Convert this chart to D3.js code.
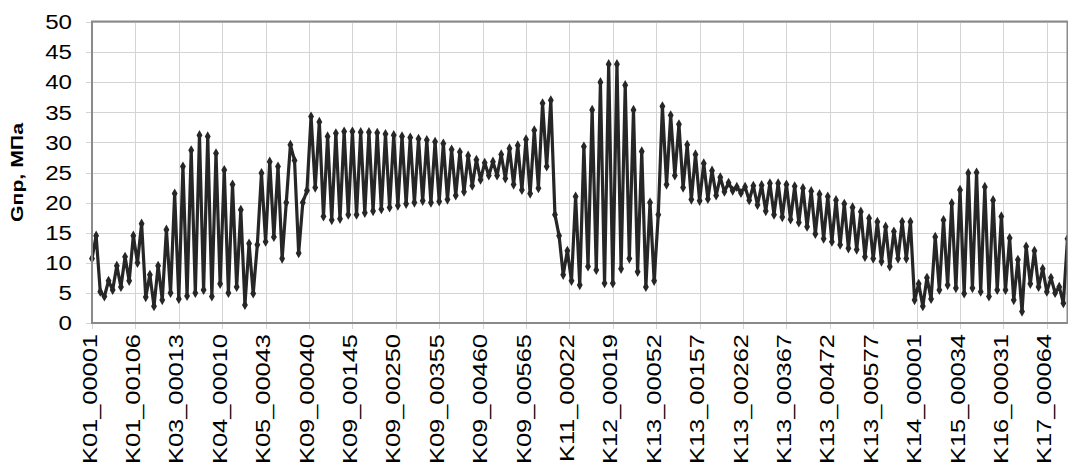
<!DOCTYPE html>
<html>
<head>
<meta charset="utf-8">
<script src="https://cdn.jsdelivr.net/npm/d3@7"></script>
<style>
  body { margin: 0; background: #ffffff; }
  .chart text { font-family: "Liberation Sans", Arial, sans-serif; fill: #000000; }
</style>
</head>
<body>
<svg class="chart"></svg>
<script>
// Sample names shown under the x axis, one every 105 samples
var tickLabels = ["K01_00001", "K01_00106", "K03_00013", "K04_00010", "K05_00043",
  "K09_00040", "K09_00145", "K09_00250", "K09_00355", "K09_00460", "K09_00565",
  "K11_00022", "K12_00019", "K13_00052", "K13_00157", "K13_00262", "K13_00367",
  "K13_00472", "K13_00577", "K14_00001", "K15_00034", "K16_00031", "K17_00064"]
var labelStep = 105
var lastSample = 2360

// y axis ticks
var yTicks = [0, 5, 10, 15, 20, 25, 30, 35, 40, 45, 50]

// Gпр readings (MPa), every 10 samples
var sampleStep = 10
var gpr = [
  10.7, 14.5, 5.2, 4.4, 7, 5.5, 9.5, 6, 11, 7,
  14.5, 10, 16.5, 4.3, 8, 2.8, 9.5, 3.8, 15.5, 5,
  21.5, 4, 26, 4.5, 28.7, 5, 31.2, 5.5, 31, 4.4,
  28.2, 6.5, 25.4, 5, 23, 6, 18.8, 3, 13.2, 4.9,
  13, 24.9, 13.5, 26.8, 14.3, 26, 10.7, 20, 29.6, 27,
  11.6, 20, 22, 34.3, 22.5, 33.4, 17.7, 31, 17.1, 31.5,
  17.3, 31.8, 18, 31.8, 18, 31.7, 18.3, 31.7, 18.6, 31.6,
  18.9, 31.4, 19.2, 31.2, 19.5, 31, 19.8, 30.8, 20, 30.6,
  20.3, 30.4, 20, 30.1, 20.2, 29.8, 20.5, 28.8, 21.2, 28.4,
  21.8, 27.8, 22.8, 27.1, 23.8, 26.6, 24.5, 26.8, 24.5, 28,
  24, 29, 23, 29.5, 22.1, 30.5, 21.5, 32, 22.4, 36.5,
  26, 37, 18, 14.5, 8, 12, 7, 21, 6.3, 29.3,
  9.4, 35.4, 8.8, 40, 6.6, 43, 6.6, 43, 9, 39.5,
  10.7, 35.4, 8.5, 28.5, 6, 20, 7, 18, 36, 23,
  34.5, 24.5, 33, 22.5, 29.6, 20.5, 28, 20.3, 26.5, 20.6,
  25.3, 21.2, 24.2, 21.8, 23.3, 22, 22.6, 21.6, 22.6, 20.4,
  22.8, 19.6, 22.9, 18.6, 23.2, 18, 23.2, 17.6, 23, 17.2,
  22.7, 16.7, 22.4, 16, 21.9, 14.8, 21.4, 14, 21, 13.5,
  20.4, 13, 19.8, 12.4, 19.2, 12.2, 18.5, 11, 17.4, 10.7,
  16.8, 10.2, 16, 9.4, 15.2, 10.7, 16.8, 10.7, 16.8, 3.8,
  6.5, 2.8, 7.5, 4, 14.3, 5.5, 17.1, 6.3, 19.9, 5.8,
  22.1, 4.9, 24.9, 5.8, 25, 5.2, 22.6, 4.4, 20.4, 5.5,
  17.7, 5.5, 14.1, 3.8, 10.5, 1.9, 12.7, 6.5, 12, 6,
  9, 5.2, 7.5, 5, 6, 3.3, 14
]

var margin = { top: 22, right: 0.5, bottom: 145, left: 92 }
var width = 1068 - margin.left - margin.right
var height = 468 - margin.top - margin.bottom

var svg = d3.select(".chart")
  .attr("width", 1068)
  .attr("height", 468)

var chart = svg.append("g")
  .attr("transform", "translate(" + margin.left + "," + margin.top + ")")

var x = d3.scaleLinear()
  .domain([0, lastSample])
  .range([0, width])

var y = d3.scaleLinear()
  .domain([0, 50])
  .range([height, 0])

var labelPos = tickLabels.map(function(d, i) { return i * labelStep })

// grid lines (they stick out a little past the frame like tick marks)
chart.append("g")
  .selectAll("line")
  .data(yTicks)
  .enter()
  .append("line")
  .attr("x1", -6)
  .attr("x2", width)
  .attr("y1", function(d) { return Math.round(y(d)) + 0.5 })
  .attr("y2", function(d) { return Math.round(y(d)) + 0.5 })
  .style("stroke", "#d4d4d4")
  .style("stroke-width", 1)

chart.append("g")
  .selectAll("line")
  .data(labelPos)
  .enter()
  .append("line")
  .attr("x1", function(d) { return Math.round(x(d)) + 0.5 })
  .attr("x2", function(d) { return Math.round(x(d)) + 0.5 })
  .attr("y1", 0)
  .attr("y2", height + 6)
  .style("stroke", "#d4d4d4")
  .style("stroke-width", 1)

// the data line
var line = d3.line()
  .x(function(d, i) { return x(i * sampleStep) })
  .y(function(d) { return y(d) })

chart.append("path")
  .datum(gpr)
  .attr("d", line)
  .style("fill", "none")
  .style("stroke", "#262626")
  .style("stroke-width", 3.2)
  .style("stroke-linejoin", "round")

chart.append("g")
  .selectAll("path")
  .data(gpr)
  .enter()
  .append("path")
  .attr("d", d3.symbol().type(d3.symbolDiamond).size(30))
  .attr("transform", function(d, i) {
    return "translate(" + x(i * sampleStep) + "," + y(d) + ")"
  })
  .style("fill", "#262626")

// plot frame
chart.append("rect")
  .attr("x", 0)
  .attr("y", -0.5)
  .attr("width", width)
  .attr("height", height + 0.5)
  .style("fill", "none")
  .style("stroke", "#8a8a8a")
  .style("stroke-width", 2)

// y axis labels (the source font is a bit wide, so stretch it)
var yAxis = d3.axisLeft(y)
  .tickValues(yTicks)
  .tickSize(0)
  .tickPadding(20)

chart.append("g")
  .call(yAxis)
  .call(function(g) { g.select(".domain").remove() })
  .selectAll("text")
  .style("font-size", "21px")
  .attr("x", -20 / 1.15)
  .attr("transform", "scale(1.15,1)")

// x axis labels, turned on their side
var xAxis = d3.axisBottom(x)
  .tickValues(labelPos)
  .tickFormat(function(d, i) { return tickLabels[i] })
  .tickSize(0)

chart.append("g")
  .attr("transform", "translate(0," + height + ")")
  .call(xAxis)
  .call(function(g) { g.select(".domain").remove() })
  .selectAll("text")
  .style("font-size", "20px")
  .style("text-anchor", "end")
  .attr("x", -11 / 1.27)
  .attr("y", 0)
  .attr("dy", "0.2em")
  .attr("transform", "rotate(-90) scale(1.27,1)")

// y axis title
chart.append("text")
  .attr("transform", "translate(" + (23 - margin.left) + "," + (height / 2) + ") rotate(-90) scale(1.25,1)")
  .style("text-anchor", "middle")
  .style("font-size", "17px")
  .style("font-weight", "bold")
  .text("Gпр, МПа")
</script>
</body>
</html>
